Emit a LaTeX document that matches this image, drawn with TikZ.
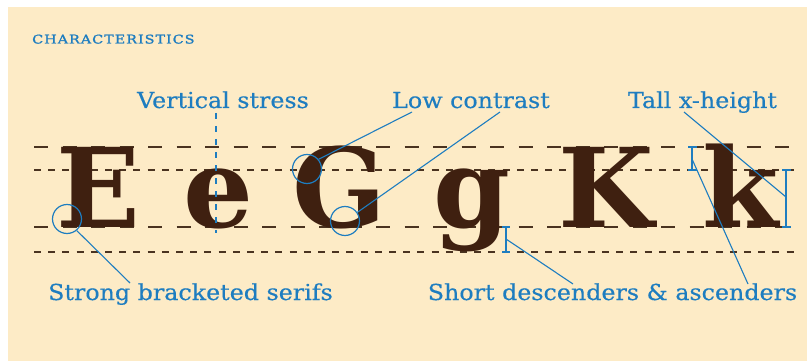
\documentclass[tikz,border=0pt]{standalone}
\usepackage{fontspec}
\setmainfont{DejaVu Serif}
\newfontfamily\labelfont[FakeStretch=1.08, FakeBold=0.4]{DejaVu Serif}
\newfontfamily\titlefont[FakeStretch=1.2, LetterSpace=8, FakeBold=1.5]{DejaVu Serif}
\definecolor{paper}{HTML}{FDEBC6}
\definecolor{ink}{HTML}{3F2010}
\definecolor{rule}{HTML}{4A3320}
\definecolor{note}{HTML}{1E7DC0}
\tikzset{
  guide/.style={rule, line width=1.3pt},
  longdash/.style={guide, dash pattern=on 14pt off 14.5pt},
  shortdash/.style={guide, dash pattern=on 7pt off 7.2pt},
  glyph/.style={inner sep=0pt, anchor=base, text=ink, font=\fontsize{110}{110}\selectfont\bfseries},
  label/.style={inner sep=0pt, anchor=base, text=note, font=\labelfont\fontsize{22}{24}\selectfont},
  leader/.style={note, line width=1.1pt},
  ring/.style={circle, draw=note, line width=1.2pt, minimum size=29pt, inner sep=0pt},
}
\begin{document}
\begin{tikzpicture}[x=1pt, y=-1pt]
\useasboundingbox (0,0) rectangle (807,361);
\fill[white] (0,0) rectangle (807,361);
\fill[paper] (8,7) rectangle (807,361);

% heading
\node[inner sep=0pt, anchor=base west, text=note, font=\titlefont\fontsize{12}{13}\selectfont] (title) at (32,43.5) {CHARACTERISTICS};

% guide lines: cap height, x-height, baseline, descender
\draw[longdash]  (34,147) -- (795,147);
\draw[shortdash] (34,170) -- (795,170);
\draw[longdash]  (34,227) -- (795,227);
\draw[shortdash] (34,252) -- (795,252);

% specimen letters
\node[glyph] (E)  at (98,227)  {E};
\node[glyph] (e)  at (218,227) {e};
\node[glyph] (G)  at (339,227) {G};
\node[glyph] (g)  at (472,227) {g};
\node[glyph] (K)  at (606,227) {K};
\node[glyph] (k)  at (741,227) {k};

% labels
\node[label] (stress)   at (223,108)   {Vertical stress};
\node[label] (contrast) at (471,108)   {Low contrast};
\node[label] (xheight)  at (702.5,108) {Tall x-height};
\node[label] (serifs)   at (190.5,300) {Strong bracketed serifs};
\node[label] (short)    at (612.5,300) {Short descenders \& ascenders};

% vertical stress axis
\coordinate (axtop) at (216,113);
\coordinate (axbot) at (216,233);
\draw[leader, dash pattern=on 6pt off 7pt] (axtop) -- (axbot);

% bracketed serif
\node[ring] (serifring) at (67,219) {};
\coordinate (serifend) at (130,283);
\draw[leader] (serifring.-50) -- (serifend);

% contrast rings
\node[ring] (thinring)  at (307,169) {};
\node[ring] (thickring) at (345,221) {};
\coordinate (contrastA) at (412,112);
\coordinate (contrastB) at (500,112);
\draw[leader] (thinring.40) -- (contrastA);
\draw[leader] (thickring.35) -- (contrastB);

% descender bracket on g
\coordinate (dtop) at (506,227);
\coordinate (dbot) at (506,252);
\draw[leader] (dtop) -- (dbot) (502,227) -- (510,227) (502,252) -- (510,252);
\coordinate (dmid) at (506,239);
\coordinate (shortA) at (573,284);
\draw[leader] (dmid) -- (shortA);

% ascender bracket on k
\coordinate (atop) at (692,147);
\coordinate (abot) at (692,170);
\draw[leader] (atop) -- (abot) (688,147) -- (697,147) (688,170) -- (697,170);
\coordinate (amid) at (692,159);
\coordinate (shortB) at (748,284);
\draw[leader] (amid) -- (shortB);

% x-height bracket on k
\coordinate (xtop) at (786,170);
\coordinate (xbot) at (786,227);
\draw[leader] (xtop) -- (xbot) (782,170) -- (791,170) (782,227) -- (791,227);
\coordinate (xmid) at (786,197);
\coordinate (xstart) at (684,112);
\draw[leader] (xstart) -- (xmid);
\end{tikzpicture}
\end{document}
